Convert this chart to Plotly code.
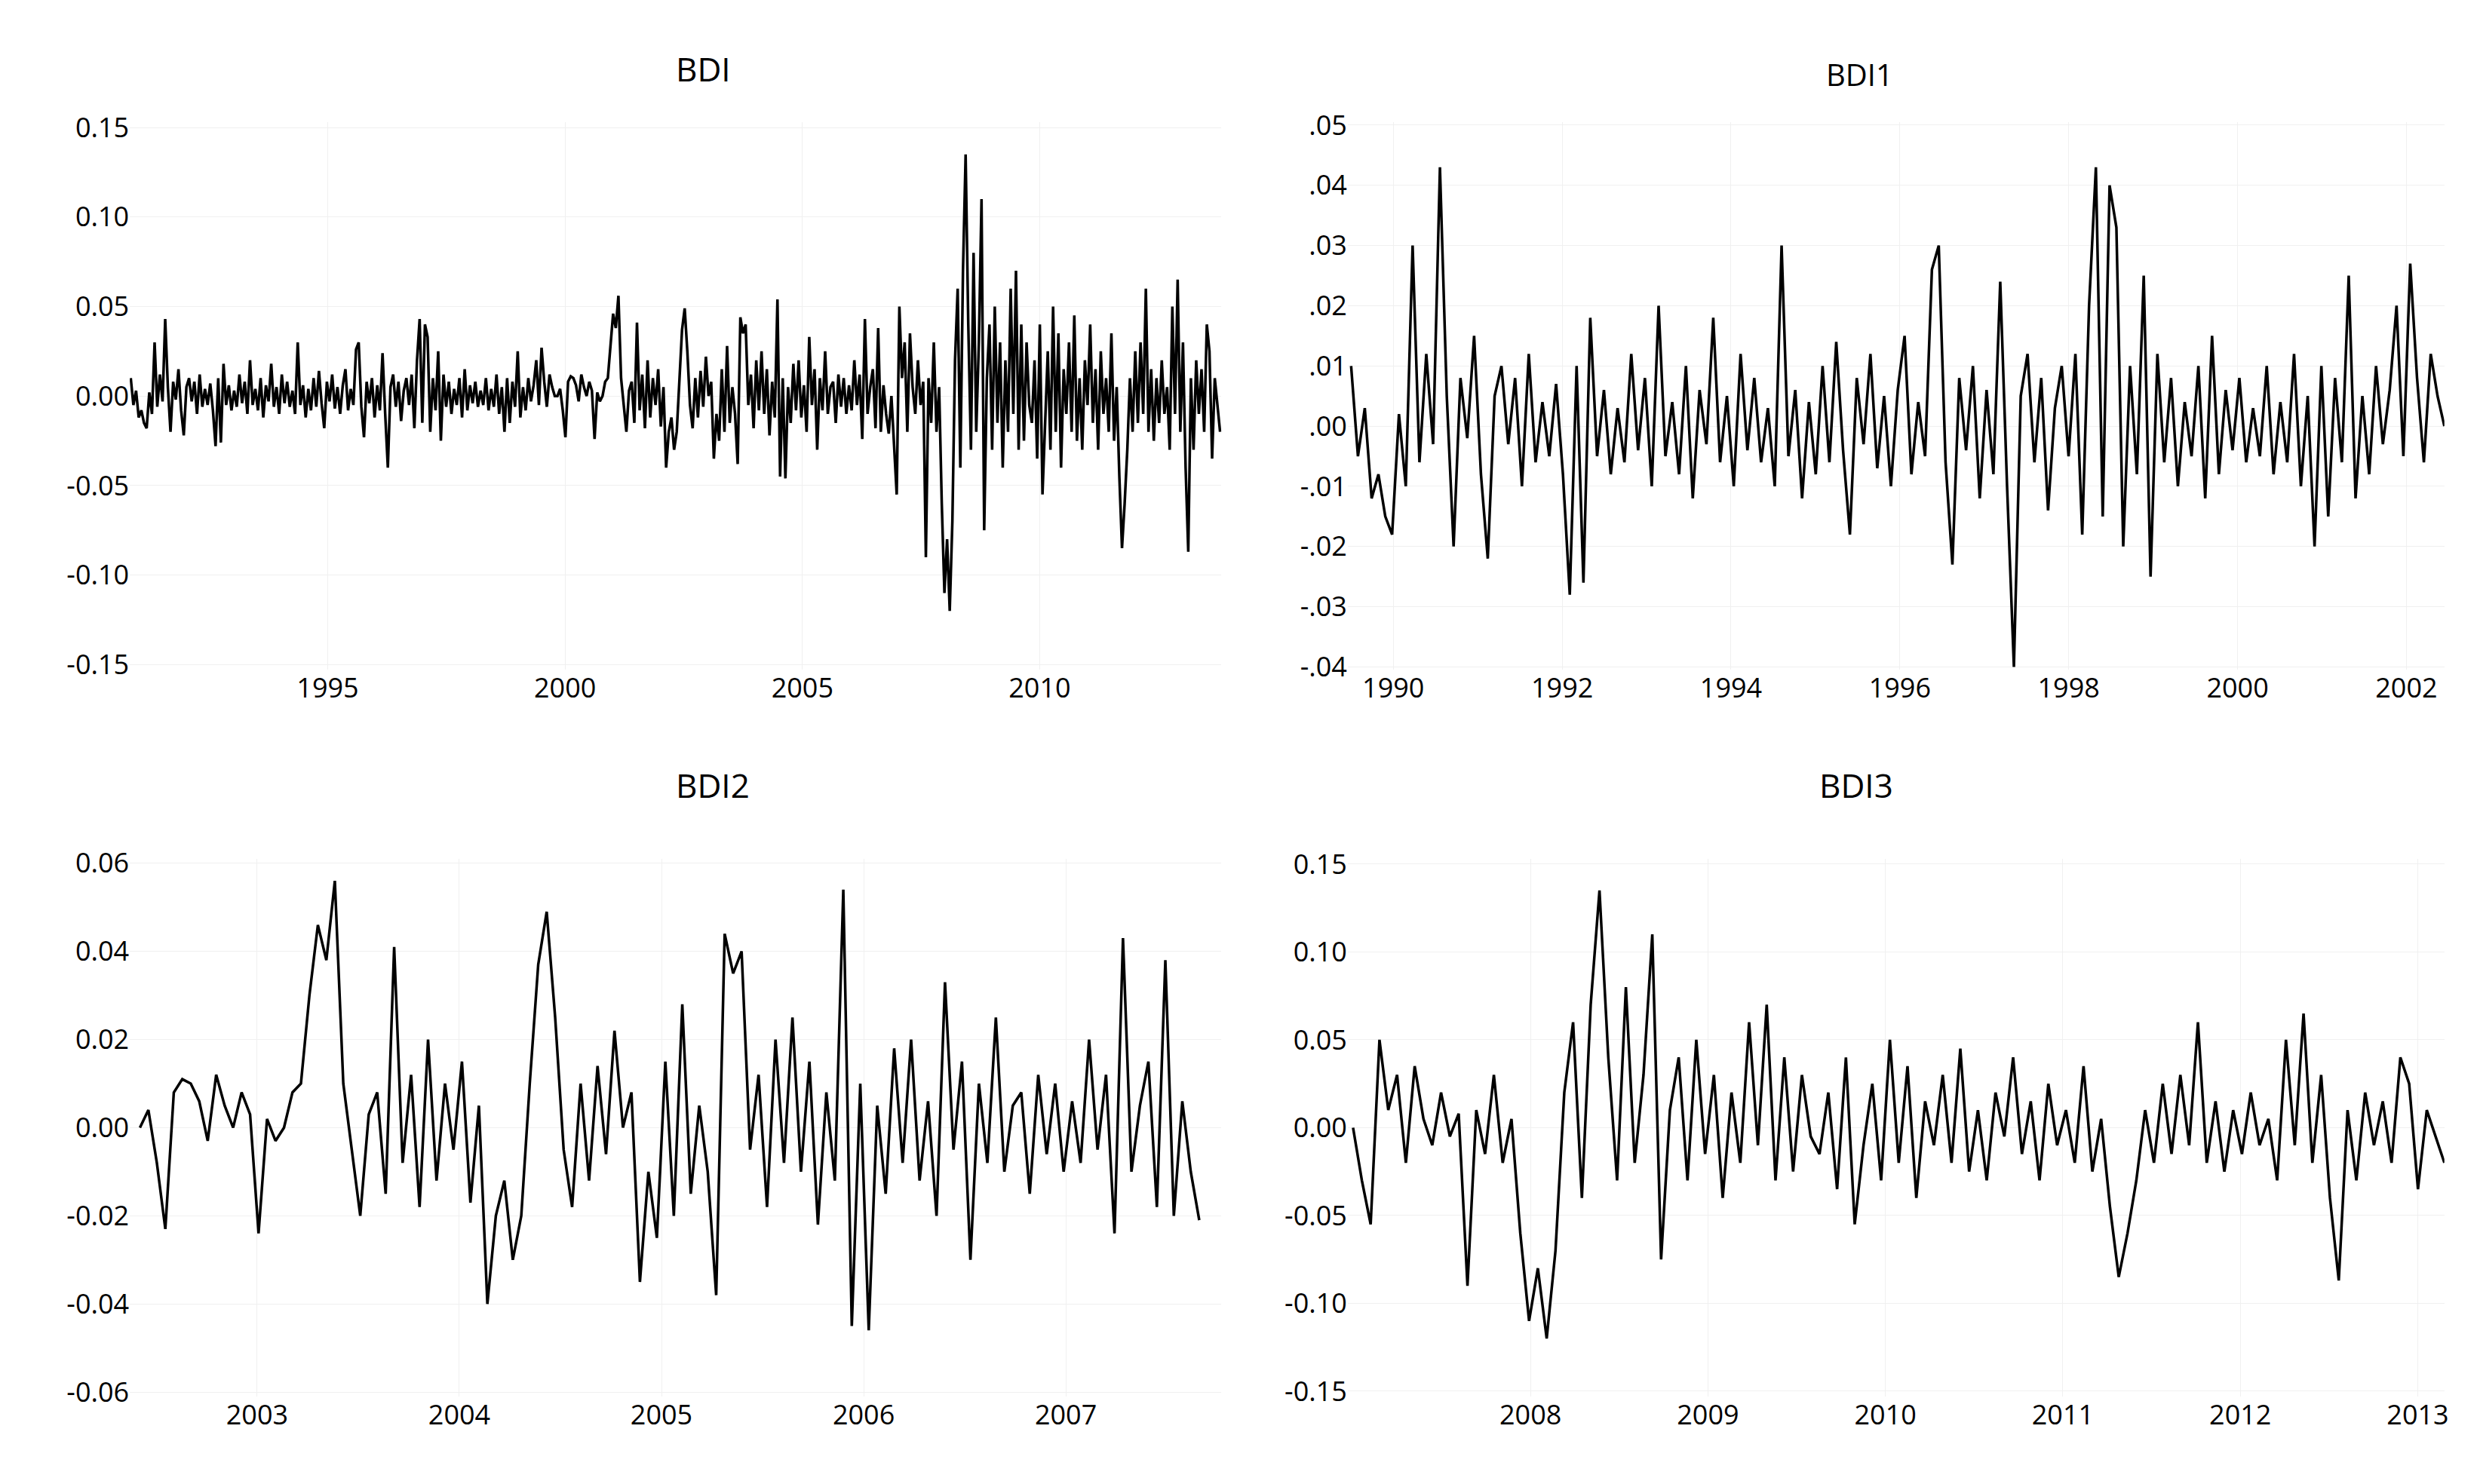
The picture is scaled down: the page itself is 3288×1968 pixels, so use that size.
import numpy as np
import plotly.graph_objects as go

# values in thousandths
bdi1_vals = [10,-5,3,-12,-8,-15,-18,2,-10,30,-6,12,-3,43,5,-20,8,-2,
 15,-8,-22,5,10,-3,8,-10,12,-6,4,-5,7,-8,
 -28,10,-26,18,-5,6,-8,3,-6,12,-4,8,-10,
 20,-5,4,-8,10,-12,6,-3,18,-6,5,-10,
 12,-4,8,-6,3,-10,30,-5,6,-12,4,-8,
 10,-6,14,-4,-18,8,-3,12,-7,5,-10,6,
 15,-8,4,-5,26,30,-6,-23,8,-4,10,-12,
 6,-8,24,-10,-40,5,12,-6,8,-14,3,10,
 -5,12,-18,20,43,-15,40,33,-20,10,-8,25,
 -25,12,-6,8,-10,4,-5,10,-12,15,-8,6,
 -4,8,-6,3,-5,10,-8,4,-6,12,-10,5,
 -20,10,-15,8,-6,25,-12,5,-8,10,-3,6,
 20,-5,27,8,-6,12,5,0]
bdi2_vals = [0,4,-8,-23,8,11,10,6,-3,12,5,0,8,3,-24,2,-3,0,8,10,30,46,38,56,10,-5,-20,3,8,-15,41,-8,12,-18,20,-12,10,-5,15,-17,5,-40,-20,-12,-30,-20,10,37,49,25,-5,-18,10,-12,14,-6,22,0,8,-35,-10,-25,15,-20,28,-15,5,-10,-38,44,35,40,-5,12,-18,20,-8,25,-10,15,-22,8,-12,54,-45,10,-46,5,-15,18,-8,20,-12,6,-20,33,-5,15,-30,10,-8,25,-10,5,8,-15,12,-6,10,-10,6,-8,20,-5,12,-24,43,-10,5,15,-18,38,-20,6,-10,-21]
bdi3_vals = [0,-30,-55,50,10,30,-20,35,5,-10,20,-5,8,-90,10,-15,30,-20,5,-60,-110,-80,-120,-70,20,60,-40,70,135,40,-30,80,-20,30,110,-75,10,40,-30,50,-15,30,-40,20,-20,60,-10,70,-30,40,-25,30,-5,-15,20,-35,40,-55,-10,25,-30,50,-20,35,-40,15,-10,30,-20,45,-25,10,-30,20,-5,40,-15,15,-30,25,-10,10,-20,35,-25,5,-45,-85,-60,-30,10,-20,25,-15,30,-10,60,-20,15,-25,10,-15,20,-10,5,-30,50,-10,65,-20,30,-40,-87,10,-30,20,-10,15,-20,40,25,-35,10,-5,-20]
bdi_vals = bdi1_vals + bdi2_vals + bdi3_vals

# time spans (decimal years) of each series as drawn
spans = {"BDI": (1990.85, 2013.8), "BDI1": (1989.5, 2002.45),
         "BDI2": (2002.42, 2007.66), "BDI3": (2007.0, 2013.15)}
data = {"BDI": bdi_vals, "BDI1": bdi1_vals, "BDI2": bdi2_vals, "BDI3": bdi3_vals}

bdi_ticks = [0.15, 0.10, 0.05, 0.00, -0.05, -0.10, -0.15]
bdi1_ticks = [0.05, 0.04, 0.03, 0.02, 0.01, 0.0, -0.01, -0.02, -0.03, -0.04]
bdi1_ticktext = [".05", ".04", ".03", ".02", ".01", ".00", "-.01", "-.02", "-.03", "-.04"]
bdi2_ticks = [0.06, 0.04, 0.02, 0.0, -0.02, -0.04, -0.06]
years_bdi = [1995, 2000, 2005, 2010]
years_bdi1 = [1990, 1992, 1994, 1996, 1998, 2000, 2002]
years_bdi2 = [2003, 2004, 2005, 2006, 2007]
years_bdi3 = [2008, 2009, 2010, 2011, 2012, 2013]

FONT = "Liberation Sans Narrow, Open Sans, sans-serif"
fig = go.Figure()
line = dict(color="black", width=3.5)
for i, name in enumerate(["BDI", "BDI1", "BDI2", "BDI3"]):
    v = data[name]
    s, e = spans[name]
    x = np.linspace(s, e, len(v))
    suffix = "" if i == 0 else str(i + 1)
    fig.add_trace(go.Scatter(x=x, y=[t / 1000 for t in v], mode="lines", line=line,
                             xaxis="x" + suffix, yaxis="y" + suffix))

def xa(dom, anchor, rng, years):
    return dict(domain=dom, anchor=anchor, range=rng, tickvals=years, ticktext=[str(y) for y in years],
                showgrid=True, gridcolor="#f0f0f0", zeroline=False, showline=False,
                tickfont=dict(size=36, family=FONT))

def ya(dom, anchor, rng, tickvals, ticktext):
    return dict(domain=dom, anchor=anchor, range=rng, tickvals=tickvals, ticktext=ticktext,
                showgrid=True, gridcolor="#f0f0f0", zeroline=False, showline=False,
                tickfont=dict(size=36, family=FONT))

top = [0.554, 0.931]
bot = [0.054, 0.424]
left = [0.050, 0.491]
right = [0.542, 0.985]

fig.update_layout(
    width=3288, height=1968, paper_bgcolor="white", plot_bgcolor="white",
    showlegend=False, margin=dict(l=0, r=0, t=0, b=0),
    font=dict(family=FONT, color="black"),
    xaxis=xa(left, "y", [1990.83, 2013.83], years_bdi),
    yaxis=ya(top, "x", [-0.153, 0.153], bdi_ticks, [f"{t:.2f}" for t in bdi_ticks]),
    xaxis2=xa(right, "y2", [1989.46, 2002.45], years_bdi1),
    yaxis2=ya(top, "x2", [-0.0405, 0.0505], bdi1_ticks, bdi1_ticktext),
    xaxis3=xa(left, "y3", [2002.37, 2007.77], years_bdi2),
    yaxis3=ya(bot, "x3", [-0.061, 0.061], bdi2_ticks, [f"{t:.2f}" for t in bdi2_ticks]),
    xaxis4=xa(right, "y4", [2006.97, 2013.15], years_bdi3),
    yaxis4=ya(bot, "x4", [-0.153, 0.153], bdi_ticks, [f"{t:.2f}" for t in bdi_ticks]),
    annotations=[
        dict(text="BDI", x=0.27, y=0.968, yanchor="middle", xref="paper", yref="paper", showarrow=False, font=dict(size=44)),
        dict(text="BDI1", x=0.763, y=0.964, yanchor="middle", xref="paper", yref="paper", showarrow=False, font=dict(size=40)),
        dict(text="BDI2", x=0.27, y=0.475, yanchor="middle", xref="paper", yref="paper", showarrow=False, font=dict(size=44)),
        dict(text="BDI3", x=0.763, y=0.475, yanchor="middle", xref="paper", yref="paper", showarrow=False, font=dict(size=44)),
    ],
)
fig.write_html("out.html")
